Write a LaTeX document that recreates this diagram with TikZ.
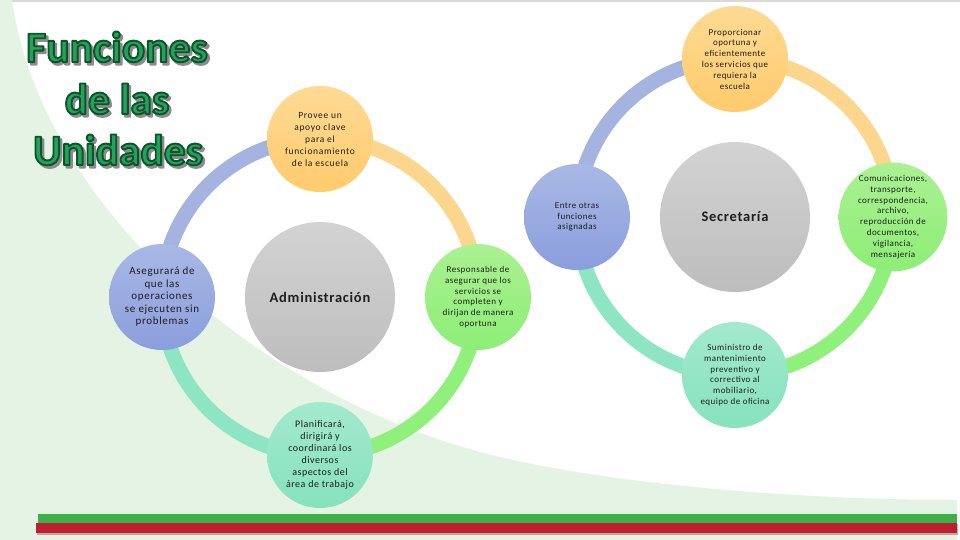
\documentclass[tikz,border=0pt]{standalone}
\usepackage{fontspec}
\usetikzlibrary{calc}
\setmainfont{Carlito}
\newfontfamily\nodefont[LetterSpace=5]{Carlito}
\newfontfamily\provfont[LetterSpace=7]{Carlito}
\newfontfamily\asegfont[LetterSpace=6]{Carlito}
\newfontfamily\titlefam{Carlito}
\definecolor{bgreen}{HTML}{E5F3E4}
\definecolor{topline}{HTML}{D9D9D9}
\definecolor{bargreen}{HTML}{3DB049}
\definecolor{barred}{HTML}{BE1E2D}
\definecolor{blueA}{HTML}{A9B8E5}
\definecolor{blueB}{HTML}{8A9EDC}
\definecolor{blueArc}{HTML}{A4B3E0}
\definecolor{orA}{HTML}{FFDA94}
\definecolor{orB}{HTML}{FFCB6C}
\definecolor{orArc}{HTML}{FDD68E}
\definecolor{grA}{HTML}{AAF192}
\definecolor{grB}{HTML}{8DEE76}
\definecolor{grArc}{HTML}{90F07C}
\definecolor{mnA}{HTML}{A3E9CE}
\definecolor{mnB}{HTML}{86E2BD}
\definecolor{mnArc}{HTML}{8DE5C4}
\definecolor{gyA}{HTML}{D3D3D3}
\definecolor{gyB}{HTML}{BDBDBD}
\definecolor{ttlgreen}{HTML}{22A25A}
\definecolor{ttlshadow}{HTML}{8C8C8C}
\definecolor{txt}{HTML}{1E1E1E}
\pgfdeclarelayer{bglayer}
\pgfdeclarelayer{ringlayer}
\pgfsetlayers{bglayer,ringlayer,main}
\tikzset{
  ring/.style={line width=15pt},
  leaf/.style={circle, minimum size=106pt, inner sep=0pt, align=center, text=txt,
    shading=axis, font=\nodefont\fontsize{9}{10.8}\selectfont},
  bluenode/.style={leaf, top color=blueA, bottom color=blueB},
  ornode/.style={leaf, top color=orA, bottom color=orB},
  grnode/.style={leaf, top color=grA, bottom color=grB},
  mnnode/.style={leaf, top color=mnA, bottom color=mnB},
  hub/.style={circle, minimum size=150pt, inner sep=0pt, align=center, text=txt,
    shading=axis, top color=gyA, bottom color=gyB,
    font=\nodefont\bfseries\fontsize{14.5}{16}\selectfont},
  ttl/.style={anchor=base, inner sep=0pt, font=\titlefam\bfseries\fontsize{43.5}{43.5}\selectfont}
}
\newcommand\outlined[2]{\special{pdf:literal direct #1 RG 1.9 w 1 j 2 Tr}#2\special{pdf:literal direct 0 Tr}}
\newcommand\titleline[4]{%
  \node[ttl, text=ttlshadow] at (#1+2.4,#2-2.6) {\outlined{0.55 0.55 0.55}{#3}};
  \node[ttl, text=ttlgreen] (#4) at (#1,#2) {\outlined{0.05 0.33 0.17}{#3}};
}
\begin{document}
\begin{tikzpicture}[x=1pt,y=1pt]
\useasboundingbox (0,0) rectangle (960,-540);
\begin{pgfonlayer}{bglayer}
\fill[white] (0,0) rectangle (960,-540);
\fill[bgreen] (0,0) -- (12,0) .. controls (40,-200) and (250,-390) .. (480,-452)
  .. controls (600,-484) and (800,-500) .. (957,-500) -- (957,-540) -- (0,-540) -- cycle;
\fill[topline] (12,0) rectangle (960,-2.5);
\fill[barred!70!black, opacity=0.35] (37,-524) rectangle (958,-534.5);
\fill[bargreen] (38,-514) rectangle (957,-523);
\fill[barred] (36,-523) rectangle (957,-533);
\end{pgfonlayer}
% title
\titleline{117}{-62}{Funciones}{t1}
\titleline{117}{-114}{de las}{t2}
\titleline{118}{-165}{Unidades}{t3}
% left cycle nodes
\node[hub] (admin) at (320,-297) {Administración};
\node[ornode, font=\provfont\fontsize{9.5}{12}\selectfont] (provee) at (320,-139)
  {Provee un\\apoyo clave\\para el\\funcionamiento\\de la escuela};
\node[bluenode, font=\asegfont\fontsize{11}{12.5}\selectfont] (asegura) at (162,-297)
  {Asegurará de\\que las\\operaciones\\se ejecuten sin\\problemas};
\node[mnnode, font=\nodefont\fontsize{10}{12}\selectfont] (planifica) at (320,-455)
  {Planificará,\\dirigirá y\\coordinará los\\diversos\\aspectos del\\área de trabajo};
\node[grnode] (respons) at (478,-297)
  {Responsable de\\asegurar que los\\servicios se\\completen y\\dirijan de manera\\oportuna};
% right cycle nodes
\node[hub] (secre) at (735,-217) {Secretaría};
\node[ornode] (proporc) at (735,-59)
  {Proporcionar\\oportuna y\\eficientemente\\los servicios que\\requiera la\\escuela};
\node[bluenode] (entre) at (577,-217) {Entre otras\\funciones\\asignadas};
\node[grnode] (comunic) at (893,-217)
  {Comunicaciones,\\transporte,\\correspondencia,\\archivo,\\reproducción de\\documentos,\\vigilancia,\\mensajería};
\node[mnnode] (sumin) at (735,-375)
  {Suministro de\\mantenimiento\\preventivo y\\correctivo al\\mobiliario,\\equipo de oficina};
% rings
\begin{pgfonlayer}{ringlayer}
\draw[ring, blueArc] (asegura.center) arc[start angle=180, end angle=90, radius=158];
\draw[ring, orArc] (provee.center) arc[start angle=90, end angle=0, radius=158];
\draw[ring, grArc] (respons.center) arc[start angle=360, end angle=270, radius=158];
\draw[ring, mnArc] (planifica.center) arc[start angle=270, end angle=180, radius=158];
\draw[ring, blueArc] (entre.center) arc[start angle=180, end angle=90, radius=158];
\draw[ring, orArc] (proporc.center) arc[start angle=90, end angle=0, radius=158];
\draw[ring, grArc] (comunic.center) arc[start angle=360, end angle=270, radius=158];
\draw[ring, mnArc] (sumin.center) arc[start angle=270, end angle=180, radius=158];
\end{pgfonlayer}
\end{tikzpicture}
\end{document}
